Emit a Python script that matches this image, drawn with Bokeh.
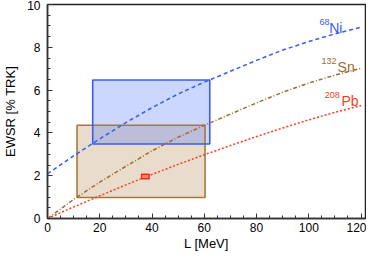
from bokeh.plotting import figure
from bokeh.models import Range1d, FixedTicker
from bokeh.core.properties import value
from bokeh.embed import file_html
from bokeh.resources import INLINE

# Data
L = [0, 10, 20, 30, 40, 50, 60, 70, 80, 90, 100, 110, 120]
ni68 = [2.09, 2.93, 3.72, 4.48, 5.18, 5.82, 6.37, 6.88, 7.39, 7.87, 8.27, 8.63, 8.94]
sn132 = [0.0, 0.89, 1.70, 2.44, 3.16, 3.80, 4.35, 4.88, 5.40, 5.90, 6.33, 6.70, 7.02]
pb208 = [0.0, 0.54, 1.06, 1.57, 2.06, 2.53, 2.98, 3.41, 3.83, 4.23, 4.61, 4.96, 5.28]

# constraint boxes: [Sn (brown), Ni (blue)]
box_left = [11.3, 17.3]
box_right = [60.3, 62.1]
box_bottom = [0.98, 3.48]
box_top = [4.36, 6.47]

# Pb point (small rectangle)
pb_left = [36.0]
pb_right = [38.9]
pb_bottom = [1.86]
pb_top = [2.07]

x_ticks = [0, 20, 40, 60, 80, 100, 120]
y_ticks = [0, 2, 4, 6, 8, 10]

BLUE = "#3a5cf2"
BROWN = "#a06c2a"
RED = "#ff3a1e"
FONT = "Liberation Sans"

p = figure(width=366, height=253, output_backend="svg", toolbar_location=None,
           x_range=Range1d(0, 121.7), y_range=Range1d(0, 10),
           min_border_left=42, min_border_right=1, min_border_top=4, min_border_bottom=33)
p.background_fill_color = "white"
p.border_fill_color = "white"
p.grid.visible = False
p.outline_line_color = "#222222"
p.outline_line_width = 1.5

# boxes fills
p.quad(left=[box_left[0]], right=[box_right[0]], bottom=[box_bottom[0]], top=[box_top[0]],
       fill_color="#a06c30", fill_alpha=0.24, line_color=None)
p.quad(left=[box_left[1]], right=[box_right[1]], bottom=[box_bottom[1]], top=[box_top[1]],
       fill_color="#3560ff", fill_alpha=0.25, line_color=None)
# box edges
p.quad(left=[box_left[0]], right=[box_right[0]], bottom=[box_bottom[0]], top=[box_top[0]],
       fill_color=None, line_color="#a8773e", line_width=1.6)
p.quad(left=[box_left[1]], right=[box_right[1]], bottom=[box_bottom[1]], top=[box_top[1]],
       fill_color=None, line_color=BLUE, line_width=1.6)

# curves
p.line(L, ni68, line_color=BLUE, line_width=1.5, line_dash="4 3")
p.line(L, sn132, line_color=BROWN, line_width=1.5, line_dash="4 2 1 2")
p.line(L, pb208, line_color=RED, line_width=1.5, line_dash="2 2")

# Pb point
p.quad(left=pb_left, right=pb_right, bottom=pb_bottom, top=pb_top,
       fill_color="#ff8a70", line_color="#ff2a10", line_width=1.5)

# labels with superscripts
lab_main_x = [107.8, 111.0, 112.5]
lab_main_y = [8.91, 7.10, 5.49]
lab_main = ["Ni", "Sn", "Pb"]
lab_sup_x = [104.1, 104.9, 106.1]
lab_sup_y = [9.20, 7.36, 5.75]
lab_sup = ["68", "132", "208"]
lab_colors = [BLUE, BROWN, RED]

p.text(x=lab_main_x, y=lab_main_y, text=lab_main, text_color=lab_colors,
       text_font=value(FONT), text_font_size="14px", text_baseline="alphabetic", text_align="left")
p.text(x=lab_sup_x, y=lab_sup_y, text=lab_sup, text_color=lab_colors,
       text_font=value(FONT), text_font_size="9px", text_baseline="alphabetic", text_align="left")

# axes
for ax in (p.xaxis[0], p.yaxis[0]):
    ax.axis_line_color = "#333333"
    ax.axis_line_width = 1.5
    ax.major_tick_line_color = "#333333"
    ax.minor_tick_line_color = "#333333"
    ax.major_tick_in = 5
    ax.major_tick_out = 0
    ax.minor_tick_in = 3
    ax.minor_tick_out = 0
    ax.major_label_text_font = FONT
    ax.major_label_text_font_size = "12px"
    ax.major_label_text_color = "black"
    ax.major_label_text_line_height = 1.0
    ax.axis_label_text_font = FONT
    ax.axis_label_text_font_size = "13px"
    ax.axis_label_text_font_style = "normal"
    ax.axis_label_text_color = "black"
    ax.axis_label_text_line_height = 1.0

p.xaxis.ticker = FixedTicker(ticks=x_ticks, minor_ticks=list(range(0, 125, 5)))
p.yaxis.ticker = FixedTicker(ticks=y_ticks, minor_ticks=[i * 0.5 for i in range(21)])
p.xaxis.axis_label = "L [MeV]"
p.yaxis.axis_label = "EWSR [% TRK]"
p.xaxis.major_label_standoff = 4
p.yaxis.major_label_standoff = 7
p.xaxis.axis_label_standoff = 1
p.yaxis.axis_label_standoff = 6

open("out.html", "w").write(file_html(p, INLINE))
